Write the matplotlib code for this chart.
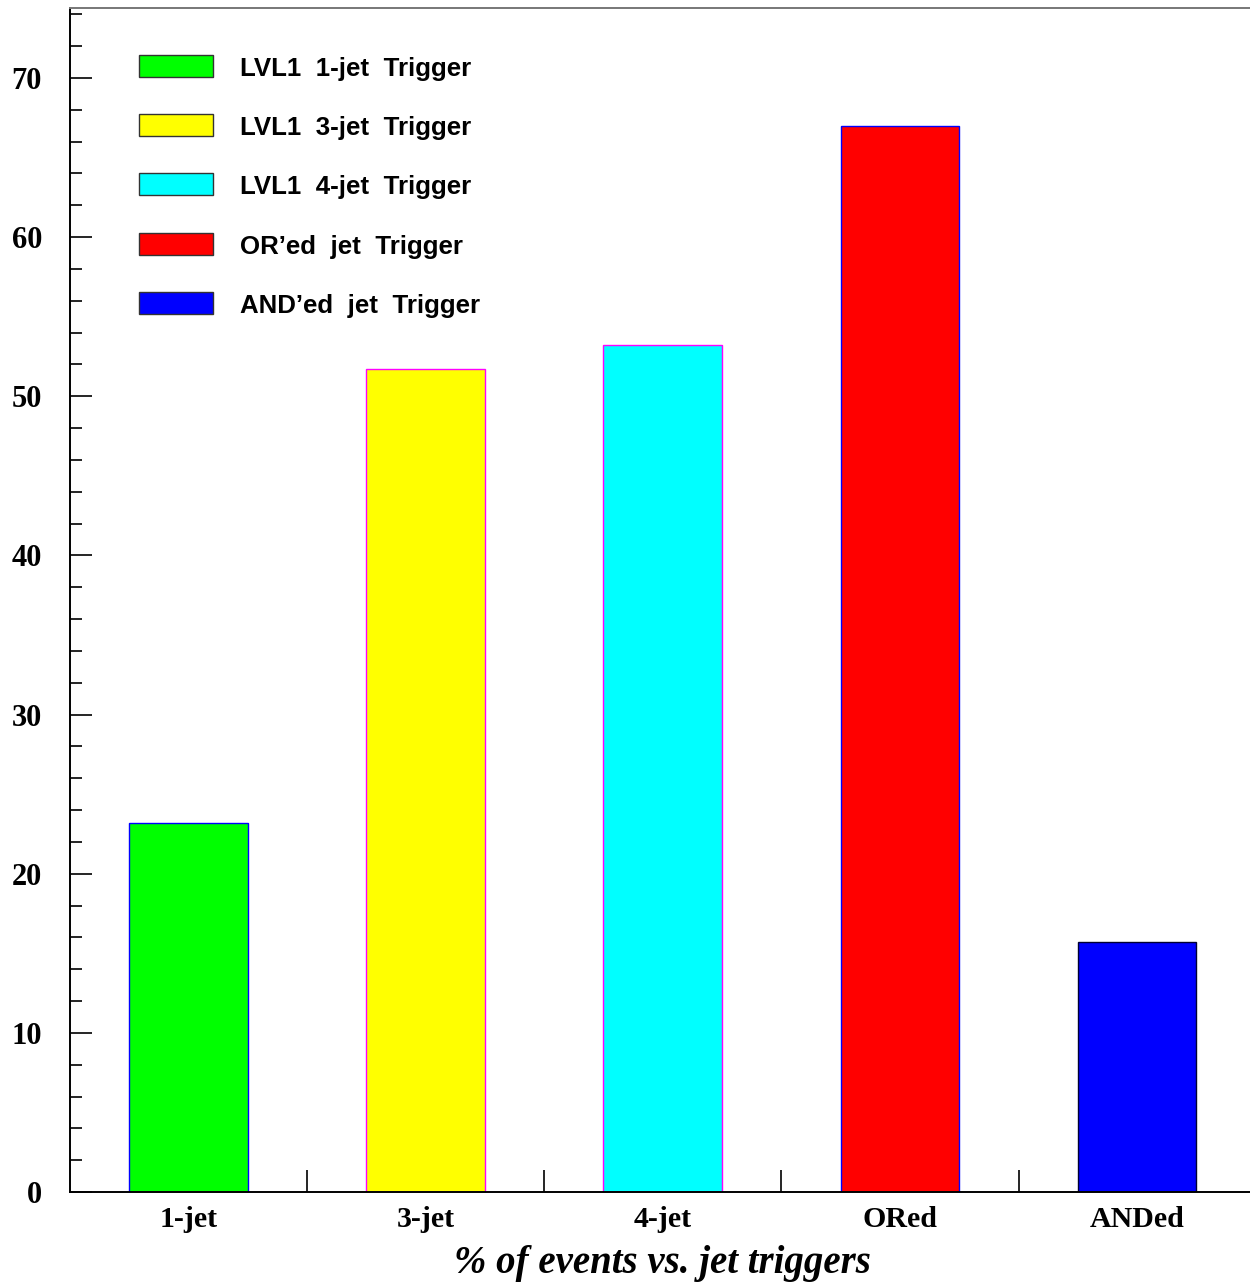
import matplotlib.pyplot as plt
from matplotlib.patches import Rectangle

# % of events passing each jet trigger
categories = ['1-jet', '3-jet', '4-jet', 'ORed', 'ANDed']
percent = [23.2, 51.7, 53.2, 67.0, 15.7]
bar_colors = ['#00ff00', '#ffff00', '#00ffff', '#ff0000', '#0000ff']
edge_colors = ['#0000ff', '#ff00ff', '#ff00ff', '#0000ff', '#000033']
legend_labels = ['LVL1  1-jet  Trigger', 'LVL1  3-jet  Trigger', 'LVL1  4-jet  Trigger',
                 'OR\u2019ed  jet  Trigger', 'AND\u2019ed  jet  Trigger']

fig = plt.figure(figsize=(12.5, 12.86), dpi=100)
ax_pos = [0.0558, 0.0731, 0.9488, 0.9207]
ax = fig.add_axes(ax_pos)

x = [i + 0.5 for i in range(len(categories))]
ax.bar(x, percent, width=0.5, color=bar_colors, edgecolor=edge_colors, linewidth=1.0, zorder=2)

ax.set_xlim(0, 5)
ax.set_ylim(0, 74.4)

for s in ['left', 'bottom']:
    ax.spines[s].set_linewidth(1.4)
ax.spines['top'].set_color('#777777')
ax.spines['top'].set_linewidth(1.4)
ax.spines['right'].set_visible(False)

serif_bold = dict(family='Liberation Serif', weight='bold')

ax.set_xticks(x)
ax.set_xticklabels(categories, fontsize=21.5, **serif_bold)
ax.set_xticks([1, 2, 3, 4], minor=True)
ax.tick_params(axis='x', which='major', length=0, pad=10)
ax.tick_params(axis='x', which='minor', direction='in', length=16, width=1.2)

ax.set_yticks(range(0, 71, 10))
ax.set_yticks(range(0, 75, 2), minor=True)
ax.set_yticklabels([str(v) for v in range(0, 71, 10)], fontsize=22, **serif_bold)
ax.tick_params(axis='y', which='major', direction='in', length=16, width=1.2, pad=20)
ax.tick_params(axis='y', which='minor', direction='in', length=8.5, width=1.2)

ax.set_xlabel('% of events vs. jet triggers', fontsize=28, family='Liberation Serif',
              weight='bold', style='italic', labelpad=9)

# legend boxes drawn in axes coordinates
ax_w, ax_h = ax_pos[2] * 1250, ax_pos[3] * 1286
x0 = ax_pos[0] * 1250
for i, (lab, col) in enumerate(zip(legend_labels, bar_colors)):
    yc = 66 + i * 59.2
    y_ax = (1192 - yc) / ax_h
    ax.add_patch(Rectangle(((139 - x0) / ax_w, y_ax - 11 / ax_h), 74 / ax_w, 22 / ax_h,
                           transform=ax.transAxes, facecolor=col, edgecolor='#333333',
                           linewidth=1.0, clip_on=False, zorder=3))
    ax.text((240 - x0) / ax_w, y_ax - 10 / ax_h, lab, transform=ax.transAxes, fontsize=18.6,
            family='Liberation Sans', weight='bold', va='baseline', ha='left')

fig.savefig('out.png', dpi=100)
